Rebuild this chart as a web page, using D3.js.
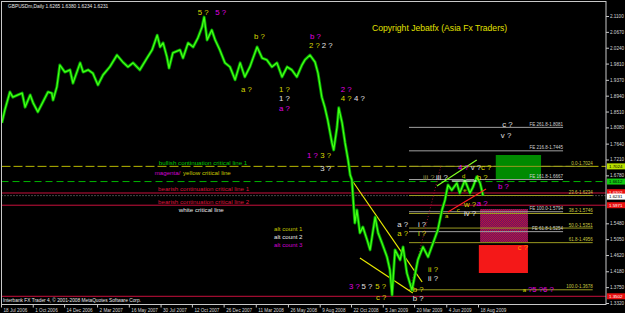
<!DOCTYPE html>
<html lang="en">
<head>
<meta charset="UTF-8">
<title>GBPUSDm Daily</title>
<script src="https://d3js.org/d3.v7.min.js"></script>
<style>
    body { margin: 0; padding: 0; background: #000; }
    svg { display: block; font-family: "Liberation Sans", Arial, sans-serif; }
</style>
</head>
<body>
<svg id="chart" width="625" height="313"></svg>
<script>
const parse = d3.timeParse("%Y-%m-%d");

// price path
const priceDates = ["2006-07-20","2006-07-27","2006-08-08","2006-08-15","2006-08-27","2006-09-06","2006-09-13","2006-09-25","2006-10-02","2006-10-13",
    "2006-10-25","2006-11-06","2006-11-15","2006-11-18","2006-11-27","2006-12-04","2006-12-16","2006-12-28","2007-01-04","2007-01-21",
    "2007-01-28","2007-02-09","2007-02-20","2007-03-04","2007-03-16","2007-04-01","2007-04-18","2007-05-02","2007-05-14","2007-05-26",
    "2007-06-11","2007-06-28","2007-07-10","2007-07-22","2007-07-29","2007-08-05","2007-08-14","2007-08-19","2007-08-28","2007-09-14",
    "2007-09-21","2007-10-03","2007-10-15","2007-10-26","2007-11-05","2007-11-10","2007-11-17","2007-11-28","2007-12-06","2007-12-17",
    "2007-12-29","2008-01-10","2008-01-22","2008-02-03","2008-02-14","2008-02-26","2008-03-14","2008-03-26","2008-04-06","2008-04-18",
    "2008-04-30","2008-05-12","2008-05-24","2008-06-04","2008-06-16","2008-06-28","2008-07-05","2008-07-17","2008-07-29","2008-08-05",
    "2008-08-14","2008-08-21","2008-08-28","2008-09-07","2008-09-11","2008-09-19","2008-09-23","2008-10-01","2008-10-08","2008-10-15",
    "2008-10-20","2008-10-24","2008-10-31","2008-11-05","2008-11-12","2008-11-19","2008-11-29","2008-12-06","2008-12-18","2008-12-25",
    "2009-01-03","2009-01-15","2009-01-22","2009-01-27","2009-02-03","2009-02-15","2009-02-22","2009-03-03","2009-03-15","2009-03-29",
    "2009-04-10","2009-04-22","2009-05-04","2009-05-15","2009-05-25","2009-06-01","2009-06-08","2009-06-17","2009-06-29","2009-07-06",
    "2009-07-18","2009-07-30","2009-08-06","2009-08-15","2009-08-23","2009-08-30"];
const priceValues = [1.820,1.855,1.904,1.890,1.896,1.901,1.863,1.896,1.874,1.850,
    1.877,1.904,1.901,1.882,1.918,1.977,1.958,1.964,1.928,1.983,
    1.958,1.964,1.955,1.923,1.950,1.972,2.004,1.985,1.972,1.983,
    1.964,1.996,2.018,2.058,2.026,2.037,1.999,1.969,2.010,2.018,
    1.996,2.037,2.026,2.050,2.080,2.107,2.045,2.072,2.045,2.018,
    1.983,1.972,1.937,1.983,1.945,1.972,2.026,1.996,1.991,1.972,
    1.983,1.945,1.972,1.964,1.945,1.977,1.991,2.004,1.985,1.955,
    1.890,1.863,1.828,1.766,1.747,1.809,1.861,1.820,1.766,1.720,
    1.679,1.666,1.549,1.584,1.522,1.538,1.503,1.476,1.565,1.522,
    1.495,1.457,1.421,1.354,1.476,1.449,1.484,1.413,1.367,1.449,
    1.484,1.457,1.495,1.530,1.584,1.611,1.652,1.638,1.657,1.630,
    1.665,1.630,1.646,1.674,1.657,1.623];

const priceTicks = [2.1100,2.0670,2.0240,1.9810,1.9370,1.8940,1.8510,1.8080,1.7640,1.7210,1.6780,1.5480,1.5050,1.4620,1.4180,1.3750,1.3320];
const timeTicks = ["2006-07-18","2006-10-01","2006-12-14","2007-03-02","2007-05-16","2007-07-30","2007-10-12","2007-12-26",
    "2008-03-11","2008-05-26","2008-08-09","2008-10-22","2009-01-05","2009-03-20","2009-06-04","2009-08-18"];

// full width lines
const yellowDashLevels = [1.7024];
const greenDashLevels = [1.6612];
const redLevels = [1.6302, 1.5971, 1.3502];
const bidLevels = [1.6231];
const axisBoxLevels = [1.7024, 1.6612, 1.6302, 1.6231, 1.5971, 1.3502];

// fibo retracement and expansion
const fibNames = ["0.0","23.6","38.2","50.0","61.8","100.0"];
const fibValues = [1.7024,1.6234,1.5746,1.5351,1.4956,1.3678];
const feNames = ["FE 261.8","FE 216.8","FE 161.8","FE 100.0","FE 61.8"];
const feValues = [1.8081,1.7445,1.6667,1.5794,1.5254];
const fibFrom = "2009-03-08", feTo = "2010-03-07", fibTo = "2010-05-16";

// zones: [from, to, top, bottom]
const greenZone = ["2009-09-29","2010-01-14",1.7332,1.6654];
const purpleZone = ["2009-08-23","2009-12-14",1.5868,1.4974];
const redZone = ["2009-08-20","2009-12-14",1.4892,1.4133];

// trend lines
const wedgeUpper = [["2008-10-27",1.660],["2009-04-08",1.389]];
const wedgeLower = [["2008-11-12",1.454],["2009-03-17",1.359]];
const channelGreen = [["2009-05-13",1.6492],["2009-08-15",1.7196]];
const channelRed = [["2009-06-08",1.5787],["2009-09-06",1.6410]];
const whiteSeg = [["2009-06-17",1.6627],["2009-08-15",1.6627]];
const fiboLink = [["2009-03-10",1.3678],["2009-05-22",1.7024]];

// wave labels [text, date, price]
const yellowWaves = [["5 ?","2007-10-26",2.1127],["b ?","2008-03-07",2.0477],["2 ?","2008-07-15",2.0233],["a ?","2008-02-05",1.904],
    ["1 ?","2008-05-05",1.904],["4 ?","2008-09-28",1.8796],["3 ?","2008-08-10",1.7251],["5 ?","2008-12-18",1.3699],["c ?","2008-12-20",1.3401],
    ["a ?","2009-02-08",1.5136],["b ?","2009-03-17",1.3618],["i ?","2009-03-29",1.5136],["ii ?","2009-04-22",1.4160],["c ?","2009-08-25",1.6934],
    ["b ?","2009-08-15",1.6654],["w ?","2009-07-16",1.5922]];
const whiteWaves = [["2 ?","2008-08-14",2.0233],["1 ?","2008-05-05",1.8796],["4 ?","2008-10-29",1.8796],["3 ?","2008-08-10",1.6907],
    ["5 ?","2008-11-16",1.3699],["a ?","2009-02-08",1.5380],["b ?","2009-03-17",1.3374],["i ?","2009-03-29",1.538],["ii ?","2009-04-22",1.3912],
    ["iii ?","2009-05-11",1.6654],["v ?","2009-08-01",1.6934],["iv ?","2009-07-16",1.5678],["c ?","2009-10-14",1.8091],["v ?","2009-10-11",1.7793]];
const magentaWaves = [["5 ?","2007-12-06",2.1127],["b ?","2008-07-17",2.0477],["a ?","2008-05-05",1.8525],["2 ?","2008-09-28",1.904],
    ["1 ?","2008-07-10",1.7251],["3 ?","2008-10-17",1.3699],["4 ?","2009-07-02",1.6934],["b ?","2009-10-04",1.641],["a ?","2009-08-15",1.595],
    ["?5 ?6 ?","2009-12-14",1.3618]];
const oliveWaves = [["iii ?","2009-04-10",1.6654]];
const orangeWaves = [["c ?","2009-11-20",1.4757]];
const smallYellow = [["d","2009-07-11",1.6708],["a","2009-06-01",1.5624],["c","2009-06-29",1.5787],["e","2009-07-14",1.6330],["a","2009-12-02",1.3630]];

// notes
const greenNotes = [["bullish continuation critical line 1","2007-07-26",1.7061]];
const magentaNotes = [["magenta/","2007-07-16",1.6790],["alt count 3","2008-04-23",1.4838]];
const yellowNotes = [["yellow critical line","2007-09-21",1.6790],["alt count 1","2008-04-23",1.5272]];
const redNotes = [["bearish continuation critical line 1","2007-07-24",1.6356],["bearish continuation critical line 2","2007-07-24",1.6004]];
const whiteNotes = [["white critical line","2007-09-11",1.5787],["alt count 2","2008-04-23",1.5055]];

const svg = d3.select("#chart");
const x = d3.scaleTime().domain([parse("2006-07-18"), parse("2009-08-18")]).range([1, 478]);
const y = d3.scaleLinear().domain([1.332, 2.110]).range([303, 16]);
const L = 1.5, R = 606, T = 1.5, B = 304.5;

svg.append("rect").attr("width", 625).attr("height", 313).attr("fill", "#000");
svg.append("defs").append("clipPath").attr("id", "plot")
    .append("rect").attr("x", L).attr("y", T).attr("width", R - L).attr("height", B - T);
const g = svg.append("g").attr("clip-path", "url(#plot)");

function hline(levels, color, dash, width) {
    g.selectAll(null).data(levels).join("line")
        .attr("x1", L).attr("x2", R).attr("y1", d => y(d)).attr("y2", d => y(d))
        .attr("stroke", color).attr("stroke-width", width || 1).attr("stroke-dasharray", dash);
}
hline(yellowDashLevels, "#b8b800", "9,3");
hline(greenDashLevels, "#00b400", "7,4");
hline(redLevels, "#c8103c", null);
hline(bidLevels, "#8a8a8a", "1,2");

// zones
function zone(z, fill) {
    g.append("rect").attr("x", x(parse(z[0]))).attr("width", x(parse(z[1])) - x(parse(z[0])))
        .attr("y", y(z[2])).attr("height", y(z[3]) - y(z[2])).attr("fill", fill);
}
const pat = svg.select("defs").append("pattern").attr("id", "dots").attr("width", 2).attr("height", 2).attr("patternUnits", "userSpaceOnUse");
pat.append("rect").attr("width", 2).attr("height", 2).attr("fill", "#6a1068");
pat.append("rect").attr("width", 1).attr("height", 1).attr("fill", "#b81838");
pat.append("rect").attr("x", 1).attr("y", 1).attr("width", 1).attr("height", 1).attr("fill", "#b81838");
zone(greenZone, "#008a00");
zone(purpleZone, "url(#dots)");
zone(redZone, "#f41818");

// fibo lines
g.selectAll(null).data(fibValues).join("line")
    .attr("x1", x(parse(fibFrom))).attr("x2", x(parse(fibTo)))
    .attr("y1", d => y(d)).attr("y2", d => y(d)).attr("stroke", "#9a9a20").attr("stroke-width", 1);
g.selectAll(null).data(feValues).join("line")
    .attr("x1", x(parse(fibFrom))).attr("x2", x(parse(feTo)))
    .attr("y1", d => y(d)).attr("y2", d => y(d)).attr("stroke", "#a0a0a0").attr("stroke-width", 1);
g.selectAll(null).data(fibValues).join("text")
    .attr("x", x(parse(fibTo))).attr("y", d => y(d) - 1.5).attr("text-anchor", "end")
    .attr("font-size", 4.5).attr("fill", "#c8c840").text((d, i) => fibNames[i] + "-" + d.toFixed(4));
g.selectAll(null).data(feValues).join("text")
    .attr("x", x(parse(feTo))).attr("y", d => y(d) - 1.5).attr("text-anchor", "end")
    .attr("font-size", 4.5).attr("fill", "#d0d0d0").text((d, i) => feNames[i] + "-" + d.toFixed(4));

// trend lines
function seg(pts, color, dash, width) {
    g.append("line").attr("x1", x(parse(pts[0][0]))).attr("y1", y(pts[0][1]))
        .attr("x2", x(parse(pts[1][0]))).attr("y2", y(pts[1][1]))
        .attr("stroke", color).attr("stroke-width", width || 1.2).attr("stroke-dasharray", dash);
}
seg(fiboLink, "#a01030", "1,2", 1);
seg(wedgeUpper, "#e8e800");
seg(wedgeLower, "#e8e800");

// price
const line = d3.line().x(d => x(parse(d[0]))).y(d => y(d[1]));
const series = priceDates.map((d, i) => [d, priceValues[i]]);
g.append("path").datum(series).attr("d", line).attr("fill", "none")
    .attr("stroke", "#009a00").attr("stroke-width", 3).attr("stroke-linejoin", "round");
g.append("path").datum(series).attr("d", line).attr("fill", "none")
    .attr("stroke", "#44ff14").attr("stroke-width", 1.3).attr("stroke-linejoin", "round");

seg(channelGreen, "#80ff20");
seg(channelRed, "#ff2020");
seg(whiteSeg, "#ffffff", null, 1);

// labels
function labels(list, color, size) {
    g.selectAll(null).data(list).join("text")
        .attr("x", d => x(parse(d[1]))).attr("y", d => y(d[2]))
        .attr("fill", color).attr("font-size", size).text(d => d[0]);
}
labels(yellowWaves, "#d8d800", 7.8);
labels(whiteWaves, "#e0e0e0", 7.8);
labels(magentaWaves, "#e000e0", 7.8);
labels(oliveWaves, "#8c8c40", 7.8);
labels(orangeWaves, "#ff8c00", 7.8);
labels(smallYellow, "#d8d800", 6);
labels(greenNotes, "#00c800", 6.2);
labels(magentaNotes, "#d000d0", 6.2);
labels(yellowNotes, "#c8c800", 6.2);
labels(redNotes, "#dc143c", 6.2);
labels(whiteNotes, "#e8e8e8", 6.2);

g.append("text").attr("x", 372).attr("y", 31).attr("fill", "#e0e000").attr("font-size", 8.6)
    .text("Copyright Jebatfx (Asia Fx Traders)");
g.append("text").attr("x", 8).attr("y", 7.5).attr("fill", "#e8e8e8").attr("font-size", 4.8)
    .text("GBPUSDm,Daily  1.6265 1.6380 1.6234 1.6231");
g.append("text").attr("x", 3).attr("y", 302).attr("fill", "#e8e8e8").attr("font-size", 4.8)
    .text("Interbank FX Trader 4, \u00a9 2001-2008 MetaQuotes Software Corp.");

// frame
svg.append("rect").attr("x", L).attr("y", T).attr("width", R - L).attr("height", B - T)
    .attr("fill", "none").attr("stroke", "#c8c8c8").attr("stroke-width", 1);

// axes
const yAxis = svg.append("g").attr("transform", `translate(${R},0)`)
    .call(d3.axisRight(y).tickValues(priceTicks).tickFormat(d3.format(".4f")).tickSize(3).tickPadding(1));
yAxis.select(".domain").remove();
yAxis.selectAll("line").attr("stroke", "#c8c8c8");
yAxis.selectAll("text").attr("fill", "#d8d8d8").attr("font-size", 4.6).attr("font-family", "Liberation Sans, Arial");

const xAxis = svg.append("g").attr("transform", `translate(0,${B})`)
    .call(d3.axisBottom(x).tickValues(timeTicks.map(parse)).tickFormat(d3.timeFormat("%-d %b %Y")).tickSize(3).tickPadding(1));
xAxis.select(".domain").remove();
xAxis.selectAll("line").attr("stroke", "#c8c8c8");
xAxis.selectAll("text").attr("fill", "#d8d8d8").attr("font-size", 4.6).attr("text-anchor", "start")
    .attr("dx", 2).attr("font-family", "Liberation Sans, Arial");

// price boxes on the axis
const boxFill = ["#b8e000", "#10c810", "#e81010", "#ffffff", "#e81010", "#e81010"];
const boxText = ["#000", "#000", "#fff", "#000", "#fff", "#fff"];
const boxShift = [0, 0, -0.8, 1, 0, 0];
const boxes = svg.append("g");
boxes.selectAll("rect").data(axisBoxLevels).join("rect")
    .attr("x", R + 1).attr("y", (d, i) => y(d) - 3 + boxShift[i]).attr("width", 18).attr("height", 6)
    .attr("fill", (d, i) => boxFill[i]);
boxes.selectAll("text").data(axisBoxLevels).join("text")
    .attr("x", R + 3).attr("y", (d, i) => y(d) + 1.6 + boxShift[i]).attr("font-size", 4.4)
    .attr("fill", (d, i) => boxText[i]).text(d => d.toFixed(4));
</script>
</body>
</html>
